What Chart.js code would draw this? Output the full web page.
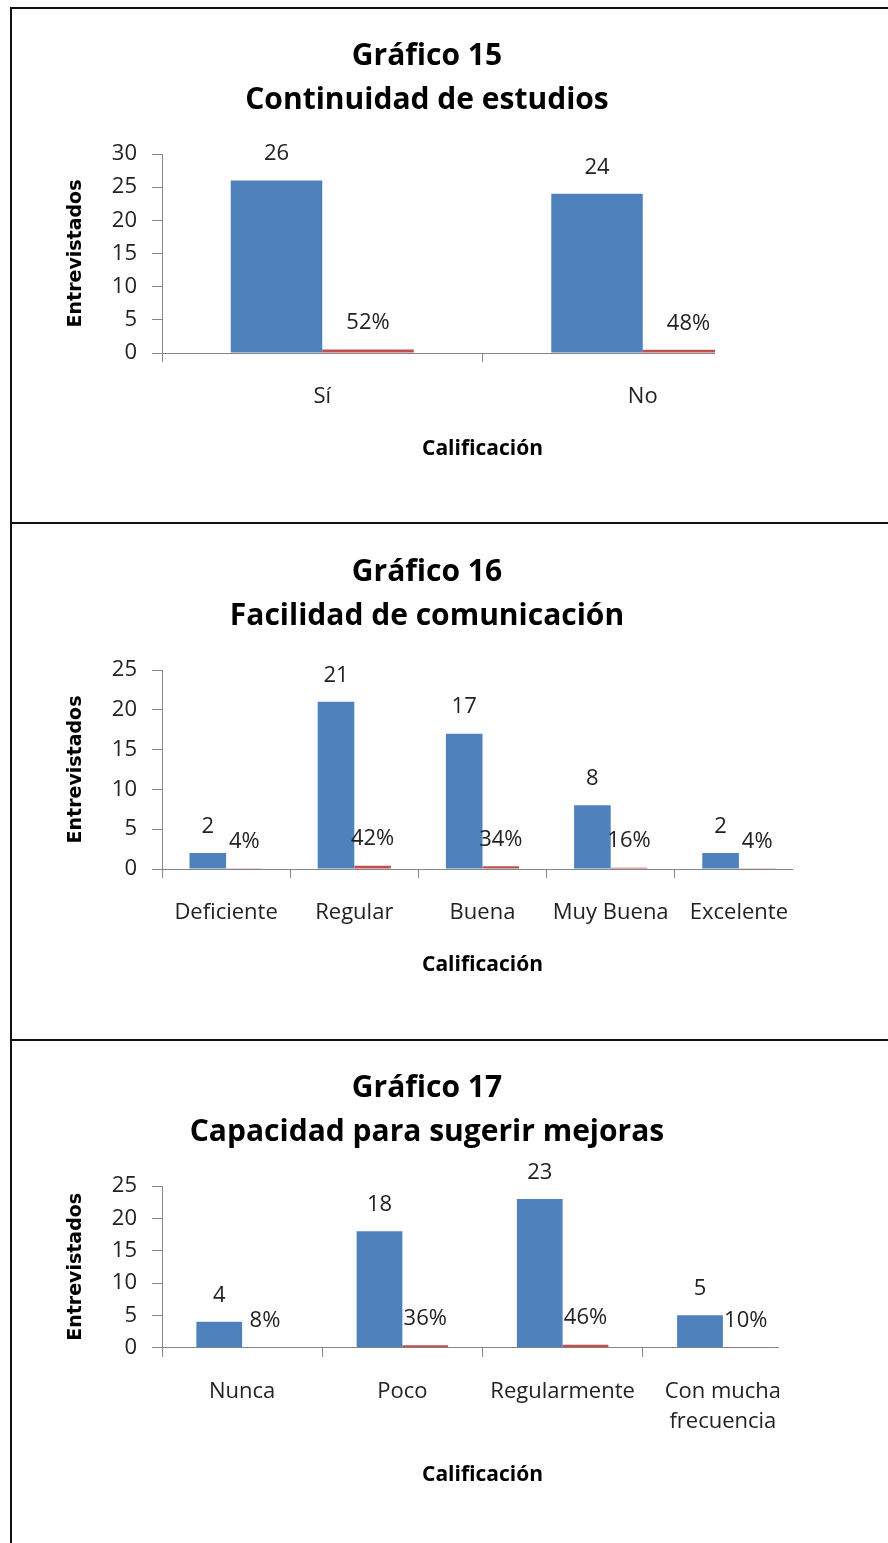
<!DOCTYPE html>
<html>
<head>
<meta charset="utf-8">
<script src="https://cdn.jsdelivr.net/npm/chart.js@4.4.0/dist/chart.umd.min.js"></script>
<style>
    body { margin: 0; background: #fff; width: 888px; height: 1543px; overflow: hidden; position: relative; }
    .frame { position: absolute; left: 10px; top: 7px; width: 900px; height: 1600px; border-left: 2px solid #111; border-top: 2px solid #111; }
    .sep { position: absolute; left: 10px; width: 900px; height: 2px; background: #111; }
    .panel { position: absolute; left: 12px; height: 500px; overflow: hidden; }
</style>
</head>
<body>
<div class="frame"></div>
<div class="sep" style="top:522px"></div>
<div class="sep" style="top:1039px"></div>

<div class="panel" style="top:9px;width:703px"><canvas id="g15" width="830" height="500"></canvas></div>
<div class="panel" style="top:525px;width:781px"><canvas id="g16" width="830" height="500"></canvas></div>
<div class="panel" style="top:1041px;width:767px"><canvas id="g17" width="830" height="500"></canvas></div>

<script>
// ===============================
// DATA
// ===============================
const catsG15 = ["Sí", "No"];
const countsG15 = [26, 24];
const shareG15 = [0.52, 0.48];

const catsG16 = ["Deficiente", "Regular", "Buena", "Muy Buena", "Excelente"];
const countsG16 = [2, 21, 17, 8, 2];
const shareG16 = [0.04, 0.42, 0.34, 0.16, 0.04];

const catsG17 = ["Nunca", "Poco", "Regularmente", ["Con mucha", "frecuencia"]];
const countsG17 = [4, 18, 23, 5];
const shareG17 = [0.08, 0.36, 0.46, 0.10];

const yMaxes = [30, 25, 25];
const yStep = 5;

const BLUE = "#4F81BD";
const RED = "#C0504D";
const AXIS = "#868686";
const TEXT = "#222";

// value labels above each bar
const barLabels = {
    id: "barLabels",
    afterDatasetsDraw(chart) {
        const ctx = chart.ctx;
        ctx.save();
        ctx.font = "22px 'Open Sans', sans-serif";
        ctx.fillStyle = TEXT;
        ctx.textAlign = "center";
        ctx.textBaseline = "middle";
        chart.data.datasets.forEach((ds, i) => {
            chart.getDatasetMeta(i).data.forEach((bar, j) => {
                const v = ds.data[j];
                const txt = i === 0 ? String(v) : Math.round(v * 100) + "%";
                ctx.fillText(txt, bar.x, bar.y - 26.5);
            });
        });
        ctx.restore();
    }
};

function makeChart(id, titleLines, cats, counts, shares, yMax, plotBottom, xTitleCenter) {
    const H = 500;
    return new Chart(document.getElementById(id), {
        type: "bar",
        data: {
            labels: cats,
            datasets: [
                { data: counts, backgroundColor: BLUE },
                { data: shares, backgroundColor: RED }
            ]
        },
        options: {
            responsive: false,
            animation: false,
            events: [],
            layout: { padding: { left: 39, right: 39, top: 0, bottom: 0 } },
            datasets: { bar: { categoryPercentage: 0.571, barPercentage: 1.0 } },
            plugins: {
                legend: { display: false },
                tooltip: { enabled: false },
                title: {
                    display: true,
                    text: titleLines,
                    color: "#000",
                    font: { family: "'Open Sans', sans-serif", size: 30, weight: "bold", lineHeight: 44 / 30 },
                    padding: { top: 25, bottom: 32 }
                }
            },
            scales: {
                x: {
                    grid: { display: true, drawOnChartArea: false, offset: true, color: AXIS, tickLength: 9, tickColor: AXIS },
                    border: { color: AXIS },
                    ticks: {
                        color: TEXT, padding: 20, maxRotation: 0, autoSkip: false,
                        font: { family: "'Open Sans', sans-serif", size: 22, lineHeight: 30 / 22 }
                    },
                    title: {
                        display: true, text: "Calificación", color: "#000",
                        font: { family: "'Open Sans', sans-serif", size: 21, weight: "bold", lineHeight: 1.2 },
                        padding: { top: 0, bottom: H - xTitleCenter - 12.6 }
                    },
                    afterFit(scale) { scale.height = H - plotBottom; }
                },
                y: {
                    min: 0, max: yMax,
                    grid: { display: true, drawOnChartArea: false, color: AXIS, tickLength: 10, tickColor: AXIS },
                    border: { color: AXIS },
                    ticks: {
                        stepSize: yStep, color: TEXT, padding: 15,
                        font: { family: "'Open Sans', sans-serif", size: 22 }
                    },
                    title: {
                        display: true, text: "Entrevistados", color: "#000",
                        font: { family: "'DejaVu Sans', sans-serif", size: 19, weight: "bold", lineHeight: 1.2 },
                        padding: { top: 13.6, bottom: 0 }
                    },
                    afterFit(scale) { scale.width = 111; }
                }
            }
        },
        plugins: [barLabels]
    });
}

function build() {
    makeChart("g15", ["Gráfico 15", "Continuidad de estudios"], catsG15, countsG15, shareG15, yMaxes[0], 344, 440);
    makeChart("g16", ["Gráfico 16", "Facilidad de comunicación"], catsG16, countsG16, shareG16, yMaxes[1], 344, 440);
    makeChart("g17", ["Gráfico 17", "Capacidad para sugerir mejoras"], catsG17, countsG17, shareG17, yMaxes[2], 306.7, 434);
}

Promise.all([
    document.fonts.load("22px 'Open Sans'"),
    document.fonts.load("bold 30px 'Open Sans'"),
    document.fonts.load("bold 19px 'DejaVu Sans'")
]).then(build, build);
</script>
</body>
</html>
